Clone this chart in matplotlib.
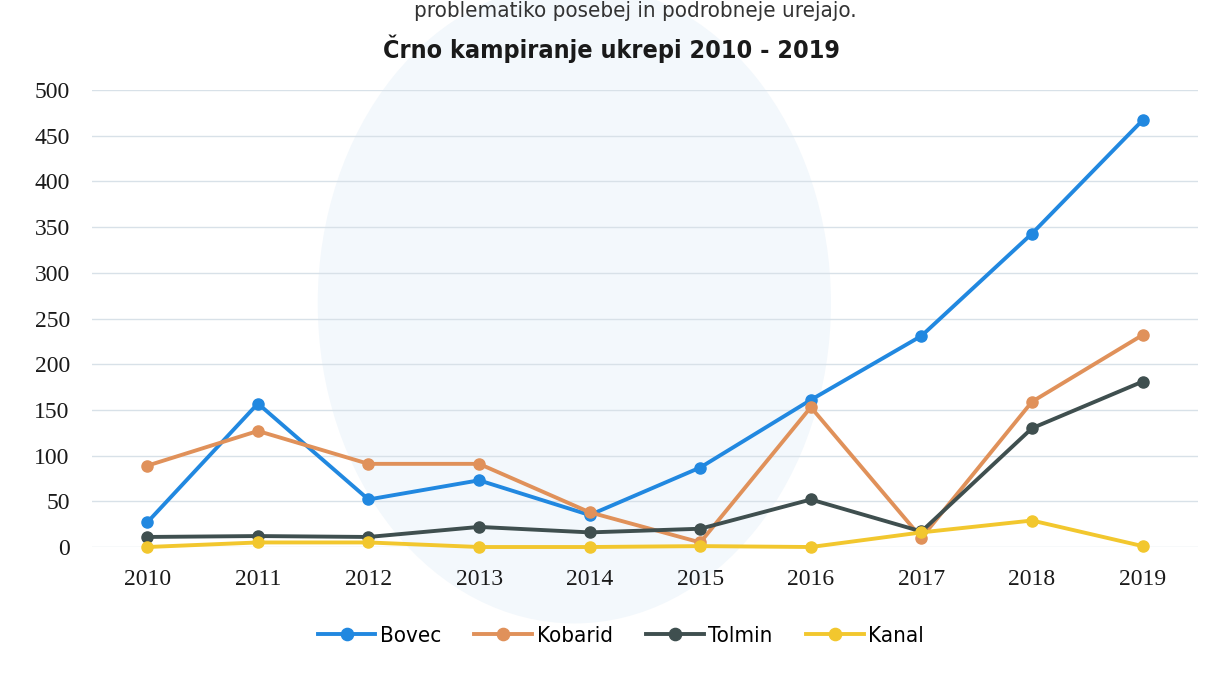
import matplotlib
matplotlib.use("Agg")
import matplotlib.pyplot as plt
from matplotlib.patches import Ellipse

# values
years = ["2010", "2011", "2012", "2013", "2014", "2015", "2016", "2017", "2018", "2019"]
bovec = [27, 157, 52, 73, 35, 87, 161, 231, 343, 467]
kobarid = [89, 127, 91, 91, 38, 5, 153, 10, 159, 232]
tolmin = [11, 12, 11, 22, 16, 20, 52, 17, 130, 181]
kanal = [0, 5, 5, 0, 0, 1, 0, 16, 29, 1]

title = "Črno kampiranje ukrepi 2010 - 2019"
top_text = "problematiko posebej in podrobneje urejajo."

series = [
    ("Bovec", bovec, "#2188e0"),
    ("Kobarid", kobarid, "#e0915a"),
    ("Tolmin", tolmin, "#3f4f4f"),
    ("Kanal", kanal, "#f2c72e"),
]

sans = ["DejaVu Sans"]
serif = ["Liberation Serif", "DejaVu Serif"]

fig = plt.figure(figsize=(12.22, 6.74), dpi=100)
fig.patch.set_facecolor("white")
ax = fig.add_axes([0.0753, 0.1884, 0.905, 0.678])
ax.set_facecolor("none")

# faint watermark blob from the scan
fig.patches.append(Ellipse((0.47, 0.55), 0.42, 0.95, transform=fig.transFigure,
                           facecolor="#f3f8fc", edgecolor="none", zorder=-5))

x = list(range(len(years)))
for name, vals, col in series:
    ax.plot(x, vals, color=col, lw=2.8, marker="o", ms=8, label=name,
            clip_on=False, zorder=3)

ax.set_xlim(-0.5, len(years) - 0.5)
ax.set_ylim(0, 500)
ax.set_yticks(range(0, 501, 50))
ax.set_xticks(x)
ax.set_xticklabels(years)
ax.grid(axis="y", color="#d8e1e8", lw=1)
ax.set_axisbelow(True)
for s in ax.spines.values():
    s.set_visible(False)
ax.tick_params(length=0)
ax.tick_params(axis="x", pad=16)
ax.tick_params(axis="y", pad=16)
for lab in ax.get_xticklabels() + ax.get_yticklabels():
    lab.set_family(serif)
    lab.set_fontsize(17)
    lab.set_color("#1a1a1a")

fig.text(0.5, 0.928, title, ha="center", va="center", fontsize=18,
         fontweight="bold", family=sans, stretch="condensed", color="#1a1a1a")
fig.text(0.52, 0.998, top_text, ha="center", va="top", fontsize=16,
         family=sans, stretch="condensed", color="#333333")

leg = fig.legend(loc="center", bbox_to_anchor=(0.508, 0.057), ncol=4,
                 frameon=False, handlelength=2.6, columnspacing=1.5,
                 handletextpad=0.2, markerscale=1.1,
                 prop={"family": sans, "size": 16, "stretch": "condensed"})

fig.savefig("out.png", dpi=100)
